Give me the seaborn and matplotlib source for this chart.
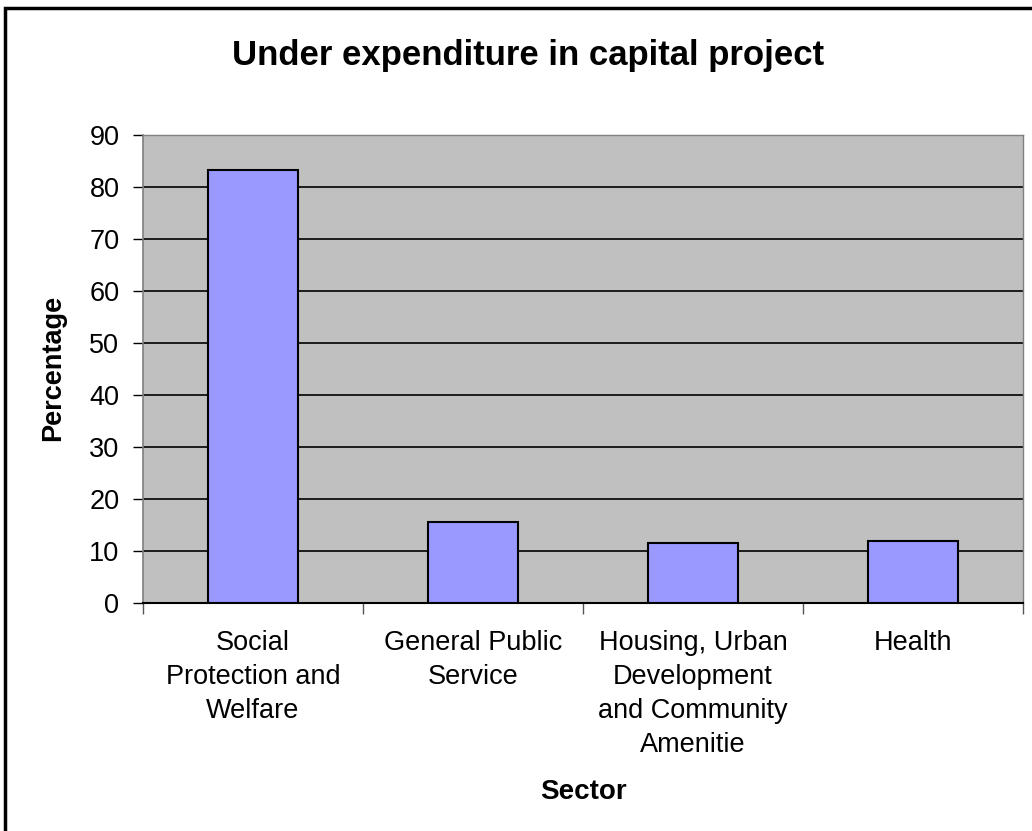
import matplotlib
matplotlib.use("Agg")
import matplotlib.pyplot as plt
import seaborn as sns
import pandas as pd
from matplotlib.patches import Rectangle

categories = ["Social\nProtection and\nWelfare", "General Public\nService",
              "Housing, Urban\nDevelopment\nand Community\nAmenitie", "Health"]
values = [83.2, 15.5, 11.6, 11.9]
yticks = [0, 10, 20, 30, 40, 50, 60, 70, 80, 90]

sns.set_theme(style="white")
plt.rcParams['font.family'] = ['Liberation Sans', 'DejaVu Sans']
plt.rcParams['text.color'] = 'black'
plt.rcParams['xtick.color'] = 'black'
plt.rcParams['ytick.color'] = 'black'

W, H = 1032, 831
fig = plt.figure(figsize=(W / 100, H / 100), dpi=100)
L, R, T, B = 143, 1023, 135, 603
ax = fig.add_axes([L / W, 1 - B / H, (R - L) / W, (B - T) / H])

df = pd.DataFrame({"cat": categories, "val": values})
sns.barplot(data=df, x="cat", y="val", ax=ax, color="#9999FF", saturation=1,
            width=0.41, edgecolor="black", linewidth=1.5, zorder=3)

ax.set_facecolor("#C0C0C0")
ax.set_ylim(0, 90)
ax.set_xlim(-0.5, 3.5)
ax.set_yticks(yticks)
ax.set_yticklabels([str(v) for v in yticks], fontsize=19.5)
for v in yticks[1:]:
    ax.axhline(v, color="black", linewidth=1.2, zorder=1)

# x ticks at category boundaries
ax.set_xticks([-0.5, 0.5, 1.5, 2.5, 3.5], minor=False)
ax.set_xticklabels([])
ax.set_xticks([0, 1, 2, 3], minor=True)
ax.set_xticklabels(categories, minor=True, fontsize=19.5, linespacing=1.4, va="top")
ax.tick_params(axis="x", which="major", direction="out", length=8, width=1, color="#555555", bottom=True)
ax.tick_params(axis="x", which="minor", length=0, pad=19.5)
ax.tick_params(axis="y", direction="out", length=7, width=1, color="black", left=True, pad=10)

for s in ["top", "right"]:
    ax.spines[s].set_visible(True)
    ax.spines[s].set_color("#808080")
    ax.spines[s].set_linewidth(1)
ax.spines["left"].set_color("#808080")
ax.spines["bottom"].set_color("black")
ax.spines["left"].set_linewidth(1.2)
ax.spines["bottom"].set_linewidth(1.5)

ax.set_xlabel("")
ax.set_ylabel("")
fig.text(528 / W, 1 - 55 / H, "Under expenditure in capital project", fontsize=25,
         fontweight="bold", ha="center", va="center")
fig.text(583 / W, 1 - 792 / H, "Sector", fontsize=20, fontweight="bold",
         ha="center", va="center")
fig.text(53 / W, 1 - 368 / H, "Percentage", fontsize=19.5, fontweight="bold",
         ha="center", va="center", rotation=90)

fig.patches.append(Rectangle((5 / W, -0.05), 1.1, 1 - 8 / H + 0.05, transform=fig.transFigure,
                             fill=False, edgecolor="black", linewidth=2.5))

fig.savefig("out.png", dpi=100, facecolor="white")
